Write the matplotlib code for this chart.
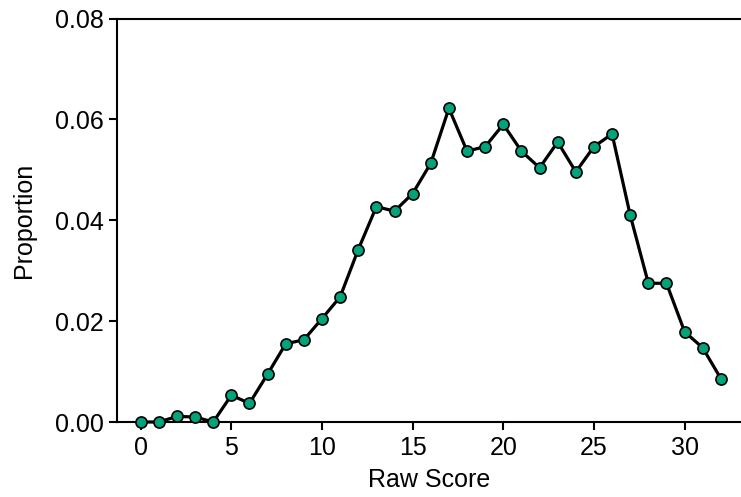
import matplotlib.pyplot as plt

plt.rcParams['font.family'] = ['Liberation Sans', 'DejaVu Sans']

# puntuaciones brutas y proporción de examinados
raw_score = list(range(33))
proportion = [0.0000, 0.0000, 0.0011, 0.0010, 0.0000, 0.0053, 0.0037, 0.0095,
              0.0155, 0.0163, 0.0205, 0.0248, 0.0342, 0.0427, 0.0418, 0.0453,
              0.0513, 0.0622, 0.0537, 0.0546, 0.0590, 0.0537, 0.0504, 0.0555,
              0.0496, 0.0546, 0.0571, 0.0410, 0.0275, 0.0275, 0.0179, 0.0147,
              0.0086]
xticks = [0, 5, 10, 15, 20, 25, 30]
yticks = [0.00, 0.02, 0.04, 0.06, 0.08]

fig = plt.figure(figsize=(7.41, 4.97), dpi=100)
ax = fig.add_axes([117.3 / 741, 75 / 497, 1 - 117.3 / 741, 403.5 / 497])

ax.plot(raw_score, proportion, color='black', linewidth=2.3,
        marker='o', markersize=8, markerfacecolor='#00A37A',
        markeredgecolor='black', markeredgewidth=1.2, clip_on=False, zorder=3)

ax.set_xlim(-1.29, 33.11)
ax.set_ylim(0, 0.08)
ax.set_xticks(xticks)
ax.set_yticks(yticks)
ax.set_yticklabels([f"{v:.2f}" for v in yticks])

ax.spines['right'].set_visible(False)
for s in ['left', 'bottom', 'top']:
    ax.spines[s].set_linewidth(1.5)
ax.tick_params(direction='out', length=6, width=1.5, labelsize=18, pad=4)

ax.set_xlabel("Raw Score", fontsize=18, labelpad=6)
ax.set_ylabel("Proportion", fontsize=18, labelpad=13.5)

fig.savefig("out.png", dpi=100)
